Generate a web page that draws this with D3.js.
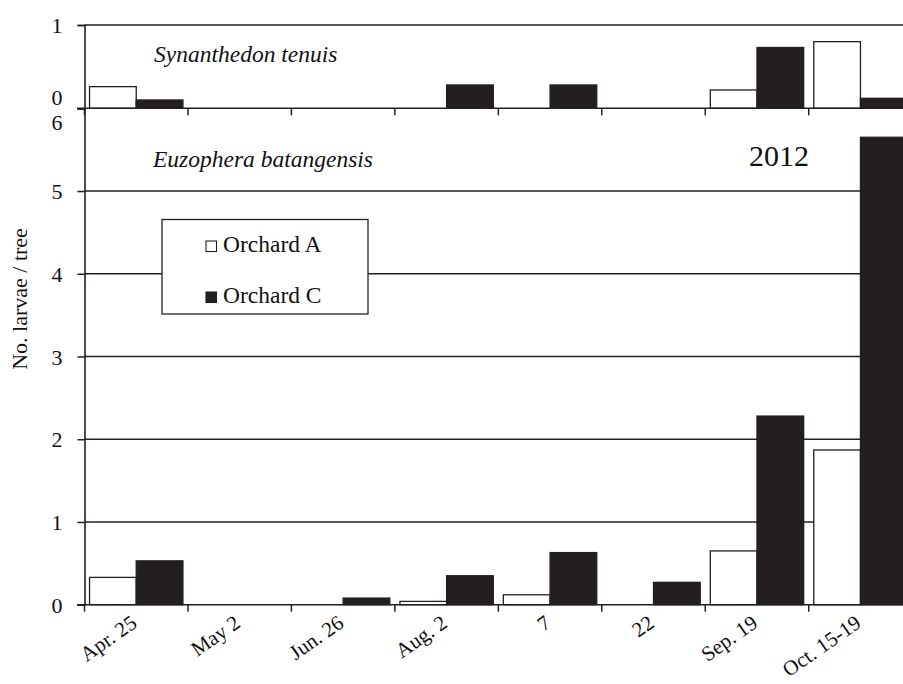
<!DOCTYPE html>
<html>
<head>
<meta charset="utf-8">
<script src="https://cdn.jsdelivr.net/npm/d3@7"></script>
<style>
  html, body { margin: 0; padding: 0; background: #fff; }
  svg { display: block; font-family: "Liberation Serif", "Times New Roman", serif; }
</style>
</head>
<body>
<svg id="chart" width="903" height="684"></svg>
<script>
// Sampling dates (2012)
const categories = ["Apr. 25", "May 2", "Jun. 26", "Aug. 2", "7", "22", "Sep. 19", "Oct. 15-19"];
const orchards = ["Orchard A", "Orchard C"];

// Synanthedon tenuis, larvae per tree
const tenuisA = [0.26, 0, 0, 0, 0, 0, 0.22, 0.80];
const tenuisC = [0.10, 0, 0, 0.28, 0.28, 0, 0.73, 0.12];

// Euzophera batangensis, larvae per tree
const batangA = [0.33, 0, 0, 0.04, 0.12, 0, 0.65, 1.87];
const batangC = [0.53, 0, 0.08, 0.35, 0.63, 0.27, 2.28, 5.65];

const topTicks = [0, 1];
const bottomTicks = [0, 1, 2, 3, 4, 5, 6];

const ink = "#231f20";
const svg = d3.select("#chart");

const left = 84.5, step = 103.46;
const right = left + step * categories.length;

const x = d3.scaleBand().domain(categories).range([left, right]).paddingInner(0).paddingOuter(0);
const xEdge = d3.scaleLinear().domain([0, categories.length]).range([left, right]);
const xSub = d3.scaleBand().domain(orchards).range([0, x.bandwidth()]).paddingInner(0).paddingOuter(0.108);

const yTop = d3.scaleLinear().domain([0, 1]).range([108.3, 25]);
const yBot = d3.scaleLinear().domain([0, 6]).range([604.7, 108.3]);

const fills = { "Orchard A": "#fff", "Orchard C": ink };

function panel(g, y, seriesA, seriesC, gridVals) {
  // horizontal grid lines
  g.selectAll("line.grid").data(gridVals).join("line")
    .attr("class", "grid")
    .attr("x1", left).attr("x2", right + 20)
    .attr("y1", d => y(d)).attr("y2", d => y(d))
    .attr("stroke", ink).attr("stroke-width", 1.4);

  const rows = categories.map((c, i) => ({ c, vals: [seriesA[i], seriesC[i]] }));
  const grp = g.selectAll("g.cat").data(rows).join("g")
    .attr("class", "cat")
    .attr("transform", d => `translate(${x(d.c)},0)`);
  grp.selectAll("rect").data(d => d.vals.map((v, j) => ({ key: orchards[j], v })).filter(b => b.v > 0))
    .join("rect")
    .attr("x", b => xSub(b.key))
    .attr("width", xSub.bandwidth())
    .attr("y", b => y(b.v))
    .attr("height", b => y(0) - y(b.v))
    .attr("fill", b => fills[b.key])
    .attr("stroke", ink).attr("stroke-width", 1.3);

  // baseline with ticks at category boundaries
  g.append("line")
    .attr("x1", 77).attr("x2", right + 20)
    .attr("y1", y(0)).attr("y2", y(0))
    .attr("stroke", ink).attr("stroke-width", 1.6);
  g.selectAll("line.xtick").data(d3.range(categories.length + 1)).join("line")
    .attr("class", "xtick")
    .attr("x1", d => xEdge(d)).attr("x2", d => xEdge(d))
    .attr("y1", y(0)).attr("y2", y(0) + 7)
    .attr("stroke", ink).attr("stroke-width", 1.5);
}

const gTop = svg.append("g");
panel(gTop, yTop, tenuisA, tenuisC, [1]);
const gBot = svg.append("g");
panel(gBot, yBot, batangA, batangC, [1, 2, 3, 4, 5]);

// y axes
function yAxis(scale, ticks, shift) {
  const g = svg.append("g").attr("transform", `translate(${left},0)`)
    .call(d3.axisLeft(scale).tickValues(ticks).tickSize(7).tickPadding(0).tickFormat(d3.format("d")));
  g.select(".domain").attr("stroke", ink).attr("stroke-width", 1.6);
  g.selectAll(".tick line").attr("stroke", ink).attr("stroke-width", 1.5);
  g.selectAll(".tick text")
    .attr("x", -22)
    .attr("dy", d => (shift[d] || 0) + 7.5)
    .attr("fill", "#111")
    .style("font-family", "'Liberation Serif', 'Times New Roman', serif")
    .style("font-size", "22px");
  return g;
}
yAxis(yTop, topTicks, { 0: -11 });
yAxis(yBot, bottomTicks, { 6: 14 });

// x labels
svg.append("g").selectAll("text").data(categories).join("text")
  .attr("transform", d => `translate(${x(d) + x.bandwidth() / 2 + 2},626) rotate(-35)`)
  .attr("text-anchor", "end")
  .attr("fill", "#111")
  .style("font-size", "21px")
  .text(d => d);

// y title
svg.append("text")
  .attr("transform", "translate(27,299) rotate(-90)")
  .attr("text-anchor", "middle")
  .attr("fill", "#111")
  .style("font-size", "22px")
  .text("No. larvae / tree");

// species names and year
svg.append("text").attr("x", 154).attr("y", 62)
  .style("font-style", "italic").style("font-size", "23.5px").attr("fill", "#111")
  .text("Synanthedon tenuis");
svg.append("text").attr("x", 153).attr("y", 167)
  .style("font-style", "italic").style("font-size", "23.5px").attr("fill", "#111")
  .text("Euzophera batangensis");
svg.append("text").attr("x", 749).attr("y", 166)
  .style("font-size", "30px").attr("fill", "#111")
  .text("2012");

// legend
const lg = svg.append("g");
lg.append("rect").attr("x", 162).attr("y", 219.5).attr("width", 206).attr("height", 94.5)
  .attr("fill", "#fff").attr("stroke", ink).attr("stroke-width", 1.3);
const items = lg.selectAll("g.item").data(orchards).join("g")
  .attr("class", "item")
  .attr("transform", (d, i) => `translate(206,${241 + i * 51})`);
items.append("rect").attr("width", 10.5).attr("height", 10.5)
  .attr("fill", d => fills[d]).attr("stroke", ink).attr("stroke-width", 1.1);
items.append("text").attr("x", 17).attr("y", 11)
  .style("font-size", "23.5px").attr("fill", "#111")
  .text(d => d);
</script>
</body>
</html>
